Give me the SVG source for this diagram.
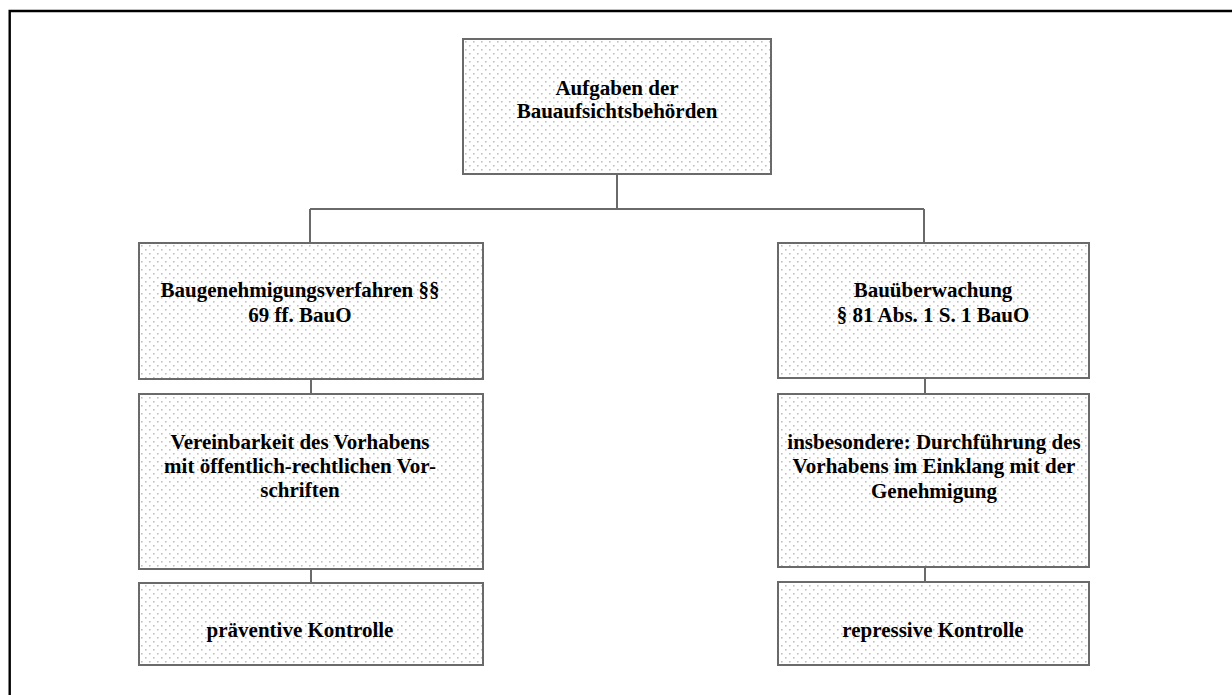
<svg xmlns="http://www.w3.org/2000/svg" width="1232" height="695" viewBox="0 0 1232 695">
<defs>
<pattern id="dots" width="8" height="8" patternUnits="userSpaceOnUse">
<rect width="8" height="8" fill="#ffffff"/>
<rect x="1" y="1" width="1.6" height="1.6" fill="#c2c2c2"/>
<rect x="5" y="5" width="1.6" height="1.6" fill="#c2c2c2"/>
</pattern>
</defs>
<style>
.box{fill:url(#dots);stroke:#6a6a6a;stroke-width:2}
.t{font-family:"Liberation Serif","Times New Roman",serif;font-weight:bold;font-size:21px;fill:#000;text-anchor:middle}
.c{stroke:#6a6a6a;stroke-width:2;fill:none}
</style>
<rect width="1232" height="695" fill="#fff"/>
<path d="M9.7 695 V11 H1232" fill="none" stroke="#000" stroke-width="2.4"/>
<g id="connectors">
<path class="c" d="M617 174 V209 M310 209 H924 M310 209 V243 M924 209 V243"/>
<path class="c" d="M311 379 V394 M311 569 V583"/>
<path class="c" d="M925 378 V394 M925 567 V582"/>
</g>
<g id="node-top">
<rect class="box" x="463" y="39" width="308" height="135"/>
<text class="t" x="617" y="95">Aufgaben der</text>
<text class="t" x="617" y="118">Bauaufsichtsbehörden</text>
</g>
<g id="node-l1">
<rect class="box" x="139" y="243" width="344" height="136"/>
<text class="t" x="300" y="297">Baugenehmigungsverfahren §§</text>
<text class="t" x="300" y="322">69 ff. BauO</text>
</g>
<g id="node-l2">
<rect class="box" x="139" y="394" width="344" height="175"/>
<text class="t" x="300" y="449">Vereinbarkeit des Vorhabens</text>
<text class="t" x="300" y="473">mit öffentlich-rechtlichen Vor-</text>
<text class="t" x="300" y="497">schriften</text>
</g>
<g id="node-l3">
<rect class="box" x="139" y="583" width="344" height="82"/>
<text class="t" x="300" y="637">präventive Kontrolle</text>
</g>
<g id="node-r1">
<rect class="box" x="778" y="243" width="311" height="135"/>
<text class="t" x="933" y="297">Bauüberwachung</text>
<text class="t" x="933" y="322">§ 81 Abs. 1 S. 1 BauO</text>
</g>
<g id="node-r2">
<rect class="box" x="778" y="394" width="311" height="173"/>
<text class="t" x="934" y="449">insbesondere: Durchführung des</text>
<text class="t" x="934" y="473">Vorhabens im Einklang mit der</text>
<text class="t" x="934" y="498">Genehmigung</text>
</g>
<g id="node-r3">
<rect class="box" x="778" y="582" width="311" height="83"/>
<text class="t" x="933" y="637">repressive Kontrolle</text>
</g>
</svg>
